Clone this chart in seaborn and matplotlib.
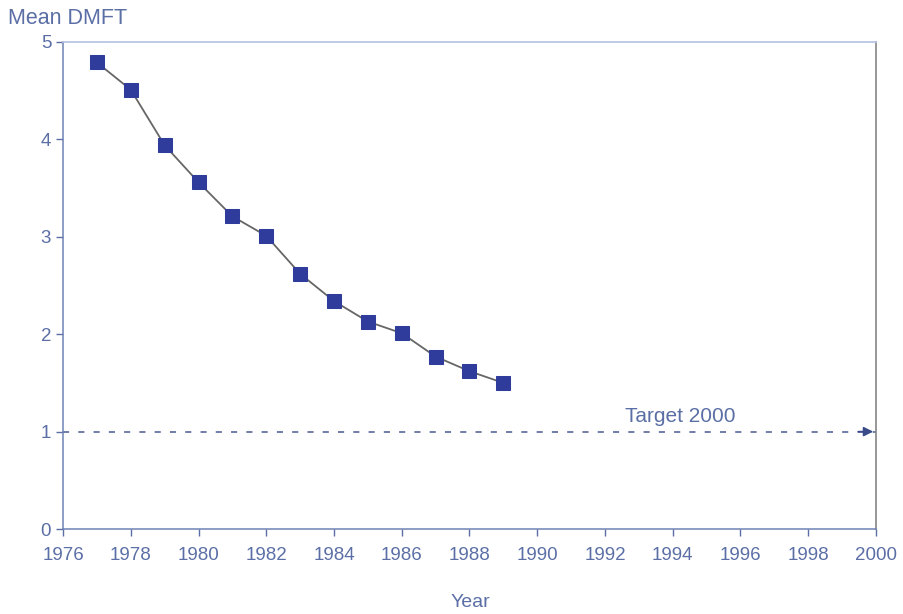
import matplotlib
matplotlib.use("Agg")
import matplotlib.pyplot as plt
import pandas as pd
import seaborn as sns

years = [1977, 1978, 1979, 1980, 1981, 1982, 1983, 1984, 1985, 1986, 1987, 1988, 1989]
mean_dmft = [4.79, 4.51, 3.94, 3.56, 3.21, 3.01, 2.62, 2.34, 2.13, 2.01, 1.77, 1.62, 1.50]
target_years = [1976, 2000]
target_value = [1.0, 1.0]
xticks = list(range(1976, 2001, 2))
yticks = [0, 1, 2, 3, 4, 5]

df = pd.DataFrame({"Year": years, "DMFT": mean_dmft})

sns.set_theme(style="white")
plt.rcParams["font.family"] = ["Liberation Sans", "DejaVu Sans"]
txt = "#5b6fa6"

fig = plt.figure(figsize=(9.04, 6.14), dpi=100)
ax = fig.add_axes([0.0697, 0.1384, 0.8993, 0.7932])

sns.lineplot(data=df, x="Year", y="DMFT", ax=ax, color="#666666", linewidth=1.3,
             marker="s", markersize=10.5, markerfacecolor="#2f3c9c",
             markeredgecolor="#2f3c9c")

# target line with arrow
ax.plot(target_years, target_value, linestyle=(0, (4, 6)), color="#4a5a90", linewidth=1.1)
ax.annotate("", xy=(target_years[1], target_value[1]),
            xytext=(target_years[1] - 0.6, target_value[1]),
            arrowprops=dict(arrowstyle="-|>", color="#3a4a88", lw=1.2, mutation_scale=14))
ax.text(1992.6, 1.06, "Target 2000", color=txt, fontsize=15, ha="left", va="bottom")

ax.set_xlim(1976, 2000)
ax.set_ylim(0, 5)
ax.set_xticks(xticks)
ax.set_yticks(yticks)
ax.tick_params(axis="both", colors=txt, labelsize=13.5, length=5, width=1,
               direction="out", bottom=True, left=True)
ax.tick_params(axis="x", pad=8)
ax.set_xlabel("")
ax.set_ylabel("")

for side in ["left", "bottom"]:
    ax.spines[side].set_color("#6f82b4")
    ax.spines[side].set_linewidth(1.1)
ax.spines["top"].set_color("#b8c2e0")
ax.spines["right"].set_color("#8a8a8a")

fig.text(0.009, 0.97, "Mean DMFT", color=txt, fontsize=15.5, ha="left", va="center")
fig.text(0.52, 0.018, "Year", color=txt, fontsize=14, ha="center", va="center")

fig.savefig("out.png", dpi=100)
